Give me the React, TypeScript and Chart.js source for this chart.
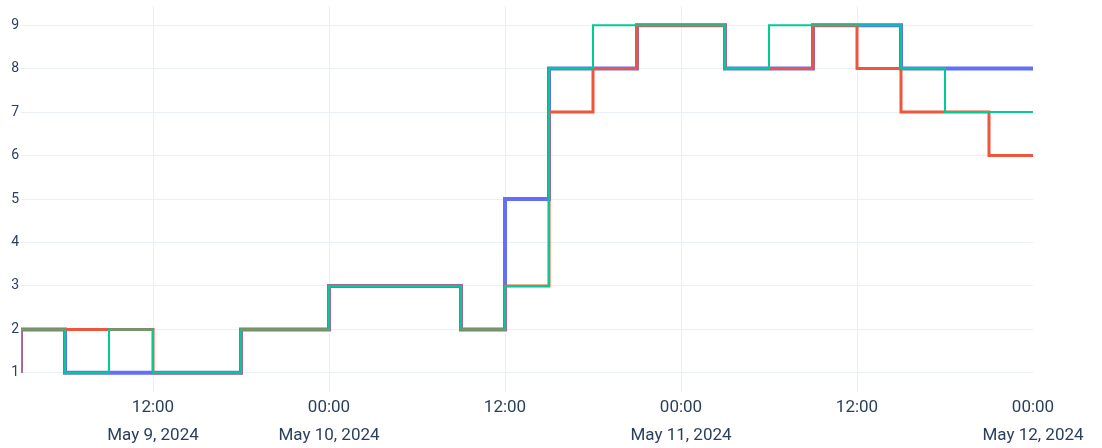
import React, { useEffect, useRef } from "react";
import { Chart, registerables } from "chart.js";

Chart.register(...registerables);

// 3-hourly timestamps (UTC)
const times = [
  "2024-05-09T03:00", "2024-05-09T06:00", "2024-05-09T09:00", "2024-05-09T12:00",
  "2024-05-09T15:00", "2024-05-09T18:00", "2024-05-09T21:00", "2024-05-10T00:00",
  "2024-05-10T03:00", "2024-05-10T06:00", "2024-05-10T09:00", "2024-05-10T12:00",
  "2024-05-10T15:00", "2024-05-10T18:00", "2024-05-10T21:00", "2024-05-11T00:00",
  "2024-05-11T03:00", "2024-05-11T06:00", "2024-05-11T09:00", "2024-05-11T12:00",
  "2024-05-11T15:00", "2024-05-11T18:00", "2024-05-11T21:00", "2024-05-12T00:00",
];

const seriesBlue = [1, 2, 1, 1, 1, 1, 2, 2, 3, 3, 3, 2, 5, 8, 8, 9, 9, 8, 8, 9, 9, 8, 8, 8];
const seriesRed = [1, 2, 2, 2, 1, 1, 2, 2, 3, 3, 3, 2, 3, 7, 8, 9, 9, 8, 8, 9, 8, 7, 7, 6];
const seriesGreen = [1, 2, 1, 2, 1, 1, 2, 2, 3, 3, 3, 2, 3, 8, 9, 9, 9, 8, 9, 9, 9, 8, 7, 7];

const xTicks = [
  "2024-05-09T12:00", "2024-05-10T00:00", "2024-05-10T12:00",
  "2024-05-11T00:00", "2024-05-11T12:00", "2024-05-12T00:00",
];
const xTickLabels = [
  ["12:00", "May 9, 2024"],
  ["00:00", "May 10, 2024"],
  ["12:00"],
  ["00:00", "May 11, 2024"],
  ["12:00"],
  ["00:00", "May 12, 2024"],
];
const yTicks = [1, 2, 3, 4, 5, 6, 7, 8, 9];

const toMs = (s: string) => Date.parse(s + ":00Z");

const FONT = "Roboto, 'Noto Sans', sans-serif";
const TEXT = "#2a3f5f";
const GRID = "#EBF0F8";

export default function App() {
  const ref = useRef<HTMLCanvasElement | null>(null);

  useEffect(() => {
    if (!ref.current) return;
    const mk = (vals: number[]) => vals.map((v, i) => ({ x: toMs(times[i]), y: v }));
    const common = {
      stepped: "after",
      pointRadius: 0,
      fill: false,
      clip: 0,
      borderJoinStyle: "miter",
    };
    const chart = new Chart(ref.current, {
      type: "line",
      data: {
        datasets: [
          { ...common, data: mk(seriesBlue), borderColor: "#636EFA", borderWidth: 4, order: 3 },
          { ...common, data: mk(seriesRed), borderColor: "#EF553B", borderWidth: 3, order: 2 },
          { ...common, data: mk(seriesGreen), borderColor: "#00CC96", borderWidth: 2, order: 1 },
        ],
      } as any,
      options: {
        animation: false,
        responsive: false,
        devicePixelRatio: 1,
        layout: { padding: { left: 0, right: 69, top: 6, bottom: 0 } },
        plugins: { legend: { display: false }, tooltip: { enabled: false } },
        scales: {
          x: {
            type: "linear",
            min: toMs(times[0]),
            max: toMs(times[times.length - 1]),
            afterBuildTicks: (s: any) => {
              s.ticks = xTicks.map((t) => ({ value: toMs(t) }));
            },
            afterFit: (s: any) => {
              s.height = 56;
              s.paddingLeft = 0;
              s.paddingRight = 0;
            },
            grid: {
              color: (c: any) => (c.index === xTicks.length - 1 ? "rgba(0,0,0,0)" : GRID),
              drawTicks: false,
              lineWidth: 1,
            },
            border: { display: false },
            ticks: {
              padding: 2,
              maxRotation: 0,
              autoSkip: false,
              color: TEXT,
              font: { family: FONT, size: 17, lineHeight: 28 / 17 },
              callback: (_v: any, i: number) => xTickLabels[i],
            },
          },
          y: {
            type: "linear",
            min: 0.56,
            max: 9.44,
            afterBuildTicks: (s: any) => {
              s.ticks = yTicks.map((v) => ({ value: v }));
            },
            afterFit: (s: any) => {
              s.width = 21;
              s.paddingTop = 0;
              s.paddingBottom = 0;
            },
            grid: { color: GRID, drawTicks: false, lineWidth: 1 },
            border: { display: false },
            ticks: {
              padding: 2,
              color: TEXT,
              font: { family: FONT, size: 14 },
              callback: (v: any) => String(v),
            },
          },
        },
      } as any,
    });
    return () => chart.destroy();
  }, []);

  return (
    <div style={{ position: "absolute", left: 0, top: 0, width: 1102, height: 448, background: "#fff" }}>
      <canvas ref={ref} width={1102} height={448} style={{ width: 1102, height: 448, display: "block" }} />
    </div>
  );
}
